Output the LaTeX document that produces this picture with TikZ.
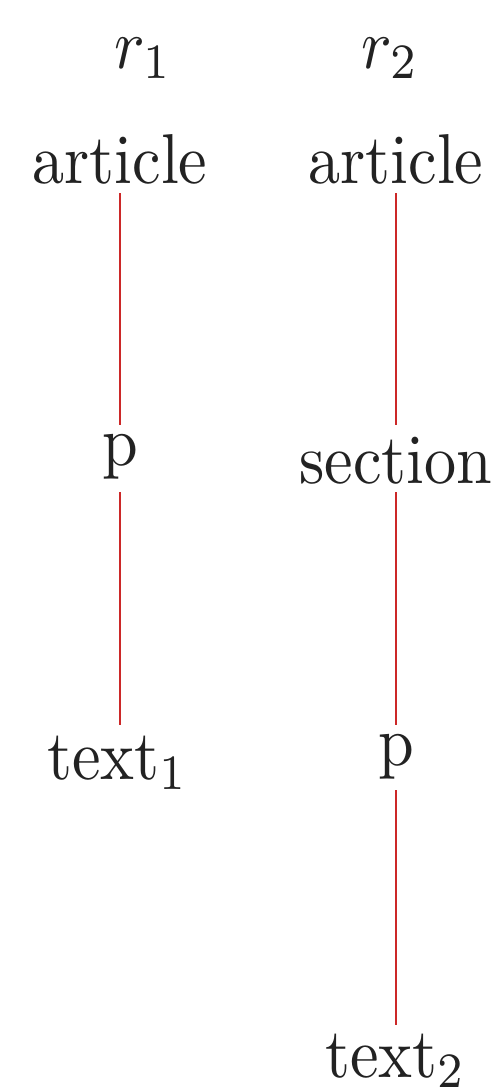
\documentclass[tikz,border=0pt]{standalone}
\usetikzlibrary{calc}
\newcommand\vstretch[1]{\scalebox{1}[1.1]{#1}}
\definecolor{edgered}{RGB}{204,40,40}
\definecolor{inkgray}{RGB}{34,34,34}
\begin{document}
\begin{tikzpicture}[x=0.1558pt,y=-0.1558pt,
  lbl/.style={anchor=base,inner sep=0pt,text=inkgray,font=\fontsize{10}{12}\selectfont},
  edge/.style={draw=edgered,line width=0.3pt}]
\useasboundingbox (0,0) rectangle (495,1090);
% headers
\node[lbl] (r1) at (143,68) {\vstretch{$r_1$}};
\node[lbl] (r2) at (390,68) {\vstretch{$r_2$}};
% column 1
\node[lbl] (a1) at (120,183) {\vstretch{article}};
\node[lbl] (p1) at (120,465) {\vstretch{p}};
\node[lbl] (t1) at (118,779) {\vstretch{text$_1$}};
% column 2
\node[lbl] (a2) at (396,183) {\vstretch{article}};
\node[lbl] (s2) at (396,483) {\vstretch{section}};
\node[lbl] (p2) at (396,765) {\vstretch{p}};
\node[lbl] (t2) at (396,1077) {\vstretch{text$_2$}};
% edges
\draw[edge] ($(a1.base)+(0,10)$) -- ($(p1.base)+(0,-40)$);
\draw[edge] ($(p1.base)+(0,27)$) -- ($(p1.base |- t1.base)+(0,-54)$);
\draw[edge] ($(a2.base)+(0,10)$) -- ($(s2.base)+(0,-58)$);
\draw[edge] ($(s2.base)+(0,9)$) -- ($(p2.base)+(0,-40)$);
\draw[edge] ($(p2.base)+(0,25)$) -- ($(t2.base)+(0,-52)$);
\end{tikzpicture}
\end{document}
